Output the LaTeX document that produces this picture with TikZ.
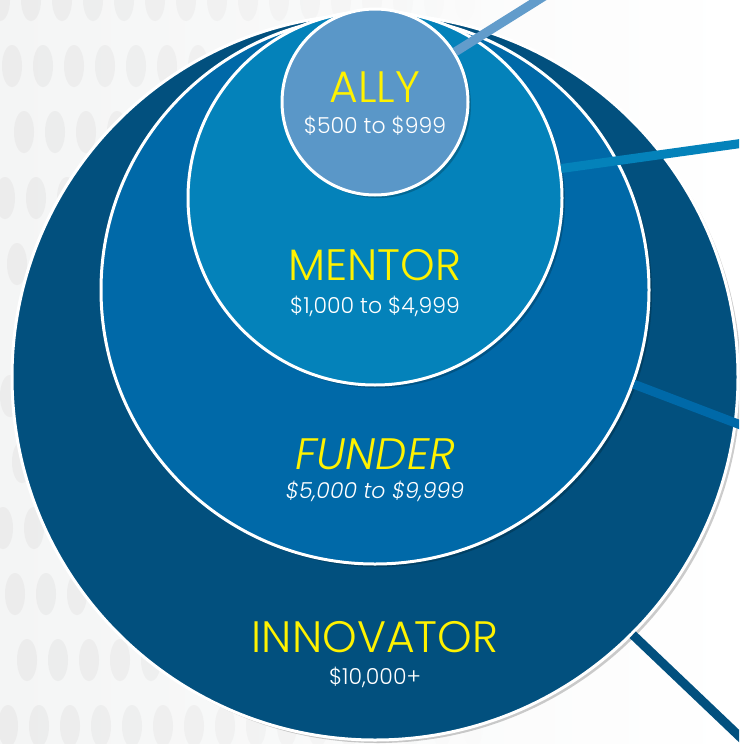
\documentclass[tikz,border=0pt]{standalone}
\usepackage{fontspec}
\setmainfont{Poppins}[UprightFont={* Light}, ItalicFont={* Light Italic}]
\usepackage{tikz}
\usetikzlibrary{shadows}
\definecolor{bggray}{HTML}{F4F5F5}
\definecolor{dotgray}{HTML}{EAEAEA}
\definecolor{innovatorblue}{HTML}{02507E}
\definecolor{funderblue}{HTML}{0069A8}
\definecolor{mentorblue}{HTML}{0482BA}
\definecolor{allyblue}{HTML}{5A97C8}
\definecolor{titleyellow}{HTML}{FFF200}

\begin{document}
\begin{tikzpicture}[x=1pt, y=-1pt,
tier/.style = {
circle,
draw=white,
line width=3pt,
inner sep=0pt,
drop shadow={shadow xshift=3pt, shadow yshift=-3pt, opacity=0.2, fill=black}
},
title/.style = {text=titleyellow, font=\fontsize{44}{44}\selectfont, inner sep=0pt, anchor=base},
amount/.style = {text=white, font=\fontsize{22}{22}\selectfont, inner sep=0pt, anchor=base},
link/.style = {line width=9pt}]

% background
\useasboundingbox (0,0) rectangle (739,744);
\clip (0,0) rectangle (739,744);
\shade[left color=bggray, right color=white] (0,0) rectangle (739,744);
\foreach \r in {0,...,11}{
\foreach \c in {0,...,15}{
\fill[dotgray, opacity={0.8-\c/20}] ({\c*31+mod(\r*12,31)},{\r*66}) ellipse [x radius=10, y radius=21];
}
}

% tiers
\node[tier, fill=innovatorblue, minimum size=726pt] (innovator) at (375,377) {};
\node[tier, fill=funderblue, minimum size=548pt] (funder) at (375,290) {};
\node[tier, fill=mentorblue, minimum size=374pt] (mentor) at (375,198) {};
\node[tier, fill=allyblue, minimum size=186pt] (ally) at (375,102) {};

% labels
\node[title] (allyT) at (375,102) {ALLY};
\node[amount] (allyR) at (375,133) {\$500 to \$999};
\node[title] (mentorT) at (375,280) {MENTOR};
\node[amount] (mentorR) at (375,313) {\$1,000 to \$4,999};
\node[title] (funderT) at (375,469) {\itshape FUNDER};
\node[amount] (funderR) at (375,498) {\itshape \$5,000 to \$9,999};
\node[title] (innovatorT) at (375,652) {INNOVATOR};
\node[amount] (innovatorR) at (375,684) {\$10,000+};

% connections
\coordinate (allyEnd) at (562,-15);
\coordinate (mentorEnd) at (780,138);
\coordinate (funderEnd) at (780,440);
\coordinate (innovatorEnd) at (780,775);
\draw[link, color=allyblue!95!white] (ally.32) -- (allyEnd);
\draw[link, color=mentorblue] (mentor.9) -- (mentorEnd);
\draw[link, color=funderblue] (funder.-20) -- (funderEnd);
\draw[link, color=innovatorblue] (innovator.-45) -- (innovatorEnd);

\end{tikzpicture}
\end{document}
